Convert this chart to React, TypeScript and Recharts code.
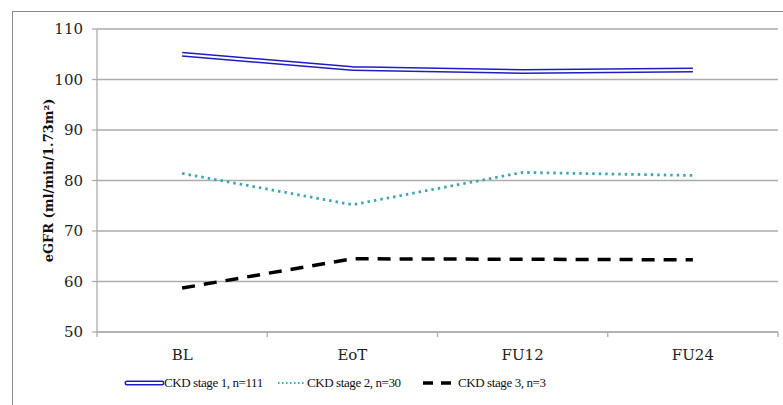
import React from "react";
import { CartesianGrid, Line, LineChart, XAxis, YAxis } from "recharts";

const categories = ["BL", "EoT", "FU12", "FU24"];
const stage1 = [105.0, 102.2, 101.6, 101.9];
const stage2 = [81.4, 75.2, 81.6, 81.0];
const stage3 = [58.7, 64.5, 64.4, 64.3];
const yTicks = [50, 60, 70, 80, 90, 100, 110];
const seriesNames = ["CKD stage 1, n=111", "CKD stage 2, n=30", "CKD stage 3, n=3"];

const data = categories.map((name, i) => ({
  name,
  s1: stage1[i],
  s2: stage2[i],
  s3: stage3[i],
}));

const BLUE = "#1d1dc4";
const TEAL = "#3fa6b4";
const GRID = "#adadad";
const FONT = "'DejaVu Serif', serif";
const legendLefts = [124, 275, 420];

function CategoryTick(props: any) {
  const { x, y, payload, index } = props;
  const half = payload && payload.offset ? payload.offset : 85;
  const last = index === categories.length - 1;
  return (
    <g>
      <line x1={x - half} y1={y} x2={x - half} y2={y + 5} stroke={GRID} strokeWidth={1.3} />
      {last && <line x1={x + half} y1={y} x2={x + half} y2={y + 5} stroke={GRID} strokeWidth={1.3} />}
      <text x={x} y={y + 28} textAnchor="middle" fill="#222" fontSize={15} fontFamily={FONT}>
        {payload.value}
      </text>
    </g>
  );
}

function LegendIcon({ index }: { index: number }) {
  if (index === 0) {
    return (
      <svg width={40} height={10}>
        <line x1={3} y1={5} x2={38} y2={5} stroke={BLUE} strokeWidth={5} strokeLinecap="round" />
        <line x1={3} y1={5} x2={38} y2={5} stroke="#fff" strokeWidth={2} strokeLinecap="round" />
      </svg>
    );
  }
  if (index === 1) {
    return (
      <svg width={32} height={10}>
        <line x1={3} y1={5} x2={30} y2={5} stroke={TEAL} strokeWidth={2} strokeDasharray="1.5 2.5" />
      </svg>
    );
  }
  return (
    <svg width={38} height={10}>
      <line x1={3} y1={5} x2={31} y2={5} stroke="#000" strokeWidth={3.5} strokeDasharray="10 8" />
    </svg>
  );
}

function ChartLegend() {
  return (
    <div style={{ position: "absolute", left: 0, top: 375, fontFamily: "'Liberation Serif', serif", fontSize: 13, letterSpacing: -0.4, color: "#111" }}>
      {seriesNames.map((n, i) => (
        <div key={n} style={{ position: "absolute", left: legendLefts[i], top: 0, display: "flex", alignItems: "center", whiteSpace: "nowrap" }}>
          <LegendIcon index={i} />
          <span>{n}</span>
        </div>
      ))}
    </div>
  );
}

export default function App() {
  return (
    <div style={{ position: "absolute", left: 0, top: 0, width: 783, height: 405, overflow: "hidden", background: "#fff" }}>
      <div
        style={{
          position: "absolute",
          left: 12,
          top: 11,
          width: 800,
          height: 420,
          border: "1.5px solid #8a8a8a",
        }}
      />
      <div style={{ position: "absolute", left: 0, top: 0 }}>
        <LineChart width={783} height={405} data={data} margin={{ top: 29, right: 5, bottom: 43, left: 0 }}>
          <CartesianGrid stroke={GRID} strokeWidth={1.3} vertical={false} />
          <XAxis
            dataKey="name"
            scale="band"
            height={30}
            stroke={GRID}
            strokeWidth={1.3}
            tickLine={false}
            tickSize={0}
            tickMargin={0}
            tick={<CategoryTick />}
            interval={0}
          />
          <YAxis
            domain={[50, 110]}
            ticks={yTicks}
            width={97}
            stroke={GRID}
            strokeWidth={1.3}
            tickSize={5}
            tickMargin={9}
            tick={{ fill: "#222", fontSize: 15, fontFamily: FONT }}
            label={{
              value: "eGFR (ml/min/1.73m²)",
              angle: -90,
              position: "center",
              dx: 0,
              style: { fontFamily: FONT, fontWeight: "bold", fontSize: 13, fill: "#111" },
            }}
          />
          <Line dataKey="s1" stroke={BLUE} strokeWidth={5} dot={false} isAnimationActive={false} legendType="none" />
          <Line dataKey="s1" stroke="#fff" strokeWidth={2} dot={false} isAnimationActive={false} legendType="none" />
          <Line dataKey="s2" stroke={TEAL} strokeWidth={2.8} strokeDasharray="2.5 4" dot={false} isAnimationActive={false} legendType="none" />
          <Line dataKey="s3" stroke="#000" strokeWidth={3.5} strokeDasharray="13 9" dot={false} isAnimationActive={false} legendType="none" />
        </LineChart>
      </div>
      <ChartLegend />
    </div>
  );
}
